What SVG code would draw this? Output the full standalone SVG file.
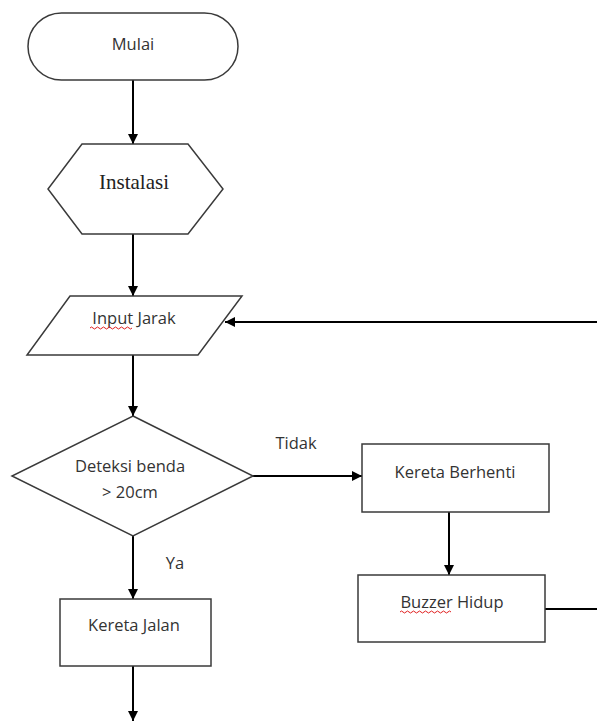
<svg xmlns="http://www.w3.org/2000/svg" width="597" height="721" viewBox="0 0 597 721">
<style>
.shape{fill:#fff;stroke:#3a3a3a;stroke-width:1.5}
.t{font-family:"Open Sans","Liberation Sans",sans-serif;font-size:16.5px;fill:#333;text-anchor:middle}
.serif{font-family:"Liberation Serif",serif;font-size:21px;fill:#222;text-anchor:middle}
.c{stroke:#000;stroke-width:2;fill:none}
.sq{stroke:#e02020;stroke-width:1;fill:none}
</style>
<defs>
<marker id="ah" viewBox="0 0 10 10" refX="10" refY="5" markerWidth="5" markerHeight="5" orient="auto" markerUnits="strokeWidth">
<path d="M0,0 L10,5 L0,10 z" fill="#000"/>
</marker>
</defs>
<g id="connectors">
<line class="c" x1="133" y1="80" x2="133" y2="144" marker-end="url(#ah)"/>
<line class="c" x1="133" y1="234" x2="133" y2="296" marker-end="url(#ah)"/>
<line class="c" x1="133" y1="355" x2="133" y2="416" marker-end="url(#ah)"/>
<line class="c" x1="597" y1="322" x2="225" y2="322" marker-end="url(#ah)"/>
<line class="c" x1="252" y1="476" x2="362" y2="476" marker-end="url(#ah)"/>
<line class="c" x1="449" y1="512" x2="449" y2="575" marker-end="url(#ah)"/>
<line class="c" x1="133" y1="536" x2="133" y2="599" marker-end="url(#ah)"/>
<line class="c" x1="545" y1="609" x2="597" y2="609"/>
<line class="c" x1="133" y1="666" x2="133" y2="721" marker-end="url(#ah)"/>
<text class="t" x="296" y="449">Tidak</text>
<text class="t" x="175" y="569">Ya</text>
</g>
<g id="mulai">
<rect class="shape" x="28" y="13" width="210" height="67" rx="33.5"/>
<text class="t" x="133" y="50">Mulai</text>
</g>
<g id="instalasi">
<polygon class="shape" points="82,144 188,144 223,189 188,234 82,234 48,189"/>
<text class="serif" x="134" y="189">Instalasi</text>
</g>
<g id="input">
<polygon class="shape" points="70,296 242,296 198,355 27,355"/>
<text class="t" x="134" y="324">Input Jarak</text>
<path class="sq" d="M90,328 q1.5,-2 3,0 t3,0 t3,0 t3,0 t3,0 t3,0 t3,0 t3,0 t3,0 t3,0 t3,0 t3,0 t3,0 t3,0"/>
</g>
<g id="deteksi">
<polygon class="shape" points="133,416 253,476 133,536 12,476"/>
<text class="t" x="130" y="472">Deteksi benda</text>
<text class="t" x="130" y="498">&gt; 20cm</text>
</g>
<g id="berhenti">
<rect class="shape" x="362" y="444" width="187" height="68"/>
<text class="t" x="455" y="478">Kereta Berhenti</text>
</g>
<g id="buzzer">
<rect class="shape" x="358" y="575" width="187" height="67"/>
<text class="t" x="452" y="608">Buzzer Hidup</text>
<path class="sq" d="M400,612 q1.5,-2 3,0 t3,0 t3,0 t3,0 t3,0 t3,0 t3,0 t3,0 t3,0 t3,0 t3,0 t3,0 t3,0 t3,0 t3,0 t3,0 t3,0"/>
</g>
<g id="jalan">
<rect class="shape" x="60" y="599" width="151" height="67"/>
<text class="t" x="134" y="631">Kereta Jalan</text>
</g>
</svg>
